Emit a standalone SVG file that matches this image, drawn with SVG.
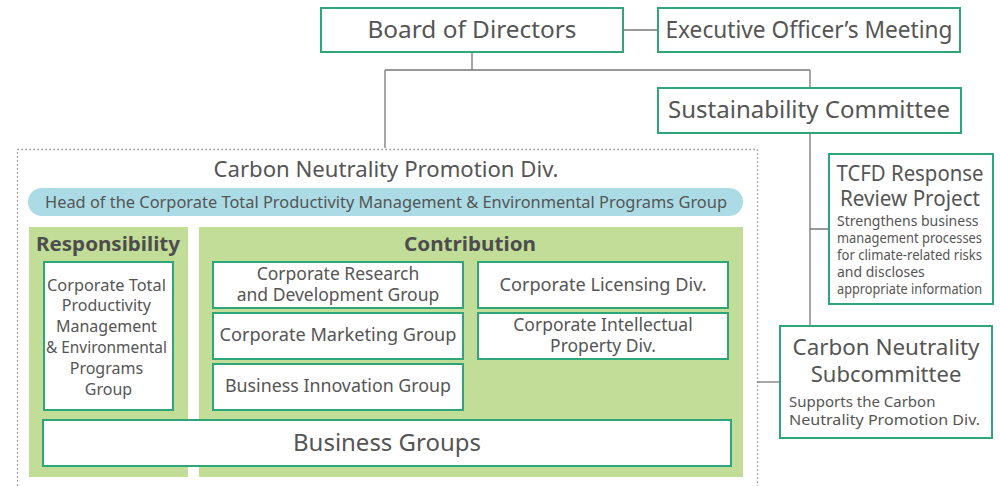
<svg xmlns="http://www.w3.org/2000/svg" width="1000" height="486" viewBox="0 0 1000 486">
<style>
.box{fill:#fff;stroke:#2ea67a;stroke-width:2}
.panel{fill:#c1dd97}
.t{font-family:"Noto Sans","Open Sans",sans-serif;fill:#555;text-anchor:middle}
.tl{font-family:"Noto Sans","Open Sans",sans-serif;fill:#555;text-anchor:start}
.b{font-weight:bold;fill:#4d4d4d}
.ln{stroke:#777;stroke-width:1.3;fill:none}
</style>
<rect width="1000" height="486" fill="#fff"/>
<g id="connectors">
<path class="ln" d="M623 30H658"/>
<path class="ln" d="M472 52V70M385 70H810M385 70V148M810 70V88"/>
<path class="ln" d="M810 133V326M810 229H829"/>
<path class="ln" d="M757 382H780"/>
</g>
<g id="cnpd">
<rect x="17.5" y="149.5" width="740" height="340" fill="none" stroke="#777" stroke-width="1.3" stroke-dasharray="1.3 2.7"/>
<text class="t" x="386" y="177" font-size="21" textLength="345" lengthAdjust="spacingAndGlyphs">Carbon Neutrality Promotion Div.</text>
</g>
<g id="head">
<rect x="28" y="188" width="715" height="28" rx="14" fill="#abdbe5"/>
<text class="t" x="386" y="208" font-size="17" textLength="682" lengthAdjust="spacingAndGlyphs">Head of the Corporate Total Productivity Management &amp; Environmental Programs Group</text>
</g>
<g id="responsibility">
<rect class="panel" x="29" y="227" width="159" height="250"/>
<text class="t b" x="108" y="251" font-size="19" textLength="144" lengthAdjust="spacingAndGlyphs">Responsibility</text>
</g>
<g id="contribution">
<rect class="panel" x="199" y="227" width="544" height="250"/>
<text class="t b" x="470" y="251" font-size="19" textLength="132" lengthAdjust="spacingAndGlyphs">Contribution</text>
</g>
<g id="ctpm">
<rect class="box" x="44" y="262" width="129" height="148"/>
<text class="t" font-size="16">
<tspan x="108.5" y="291" textLength="119" lengthAdjust="spacingAndGlyphs">Corporate Total</tspan>
<tspan x="108.5" y="311">Productivity</tspan>
<tspan x="108.5" y="332">Management</tspan>
<tspan x="108.5" y="353" textLength="121" lengthAdjust="spacingAndGlyphs">&amp; Environmental</tspan>
<tspan x="108.5" y="374">Programs</tspan>
<tspan x="108.5" y="395">Group</tspan>
</text>
</g>
<g id="crd">
<rect class="box" x="213" y="262" width="250" height="46"/>
<text class="t" font-size="17.5"><tspan x="338" y="280">Corporate Research</tspan><tspan x="338" y="301">and Development Group</tspan></text>
</g>
<g id="cmg">
<rect class="box" x="213" y="313" width="250" height="46"/>
<text class="t" x="338" y="341" font-size="17.5" textLength="237" lengthAdjust="spacingAndGlyphs">Corporate Marketing Group</text>
</g>
<g id="big">
<rect class="box" x="213" y="364" width="250" height="46"/>
<text class="t" x="338" y="392" font-size="17.5" textLength="226" lengthAdjust="spacingAndGlyphs">Business Innovation Group</text>
</g>
<g id="cld">
<rect class="box" x="478" y="262" width="250" height="46"/>
<text class="t" x="603" y="291" font-size="17.5" textLength="207" lengthAdjust="spacingAndGlyphs">Corporate Licensing Div.</text>
</g>
<g id="cipd">
<rect class="box" x="478" y="313" width="250" height="46"/>
<text class="t" font-size="17.5"><tspan x="603" y="331">Corporate Intellectual</tspan><tspan x="603" y="352">Property Div.</tspan></text>
</g>
<g id="bg">
<rect class="box" x="43" y="420" width="688" height="46"/>
<text class="t" x="387" y="451" font-size="24" textLength="188" lengthAdjust="spacingAndGlyphs">Business Groups</text>
</g>
<g id="board">
<rect class="box" x="321" y="8" width="302" height="44"/>
<text class="t" x="472" y="38" font-size="23" textLength="209" lengthAdjust="spacingAndGlyphs">Board of Directors</text>
</g>
<g id="eom">
<rect class="box" x="658" y="8" width="302" height="44"/>
<text class="t" x="809" y="38" font-size="23" textLength="287" lengthAdjust="spacingAndGlyphs">Executive Officer’s Meeting</text>
</g>
<g id="sc">
<rect class="box" x="658" y="88" width="303" height="45"/>
<text class="t" x="809" y="118" font-size="23" textLength="282" lengthAdjust="spacingAndGlyphs">Sustainability Committee</text>
</g>
<g id="tcfd">
<rect class="box" x="829" y="154" width="164" height="150"/>
<text class="t" font-size="21"><tspan x="910" y="181" textLength="147" lengthAdjust="spacingAndGlyphs">TCFD Response</tspan><tspan x="910" y="206" textLength="140" lengthAdjust="spacingAndGlyphs">Review Project</tspan></text>
<text class="tl" font-size="14">
<tspan x="837" y="226">Strengthens business</tspan>
<tspan x="837" y="243" textLength="145" lengthAdjust="spacingAndGlyphs">management processes</tspan>
<tspan x="837" y="260" textLength="145" lengthAdjust="spacingAndGlyphs">for climate-related risks</tspan>
<tspan x="837" y="277">and discloses</tspan>
<tspan x="837" y="294" textLength="145" lengthAdjust="spacingAndGlyphs">appropriate information</tspan>
</text>
</g>
<g id="cns">
<rect class="box" x="780" y="326" width="212" height="112"/>
<text class="t" font-size="22"><tspan x="886" y="355" textLength="187" lengthAdjust="spacingAndGlyphs">Carbon Neutrality</tspan><tspan x="886" y="382">Subcommittee</tspan></text>
<text class="tl" font-size="15"><tspan x="789" y="407">Supports the Carbon</tspan><tspan x="789" y="425" textLength="191" lengthAdjust="spacingAndGlyphs">Neutrality Promotion Div.</tspan></text>
</g>
</svg>
